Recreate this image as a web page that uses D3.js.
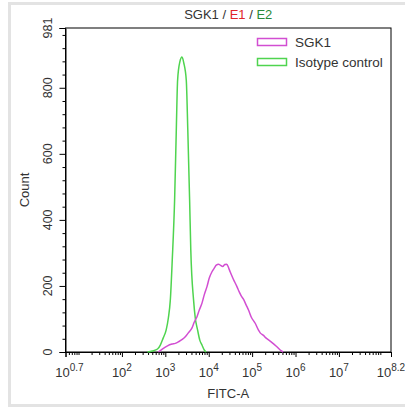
<!DOCTYPE html>
<html>
<head>
<meta charset="utf-8">
<script src="https://cdn.jsdelivr.net/npm/d3@7"></script>
<style>
  body { margin: 0; background: #fff; }
  text { font-family: "Liberation Sans", Arial, sans-serif; }
</style>
</head>
<body>
<div id="chart"></div>
<script>
// histogram values: log10(FITC-A) and event count
const isoLog   = [2.59, 2.70, 2.82, 2.885, 2.95, 3.02, 3.07, 3.115, 3.16, 3.214, 3.253, 3.283, 3.334, 3.384, 3.426, 3.483, 3.518, 3.56, 3.587, 3.651, 3.69, 3.743, 3.794, 3.845, 3.897, 3.944];
const isoCount = [0, 3, 9, 21, 42, 67, 103, 157, 279, 460, 672, 823, 878, 893, 875, 823, 672, 460, 309, 157, 103, 67, 36, 21, 6, 0];

const sgkLog   = [2.84, 2.93, 3.04, 3.155, 3.23, 3.306, 3.39, 3.46, 3.53, 3.615, 3.668, 3.73, 3.783, 3.845, 3.897, 3.96, 4.013, 4.075, 4.128, 4.174, 4.227, 4.266, 4.323, 4.369, 4.415, 4.461, 4.496, 4.565, 4.65, 4.703, 4.749, 4.80, 4.864, 4.917, 4.979, 5.071, 5.147, 5.186, 5.255, 5.324, 5.416, 5.508, 5.577, 5.646, 5.715];
const sgkCount = [0, 9, 18, 24, 26, 31, 38, 46, 58, 73, 91, 107, 127, 148, 173, 198, 224, 243, 254, 263, 266, 263, 259, 265, 266, 254, 242, 221, 198, 182, 170, 160, 142, 127, 106, 87, 66, 58, 51, 42, 33, 23, 15, 6, 0];

const xTickExps = ["0.7", "2", "3", "4", "5", "6", "7", "8.2"];
const yTicks = [0, 200, 400, 600, 800, 981];
const seriesNames = ["SGK1", "Isotype control"];
const seriesColors = ["#d24ed2", "#4fd44f"];

const W = 405, H = 407;
const margin = { top: 28, right: 14, bottom: 55, left: 65.5 };
const width = W - margin.left - margin.right,
  height = H - margin.top - margin.bottom;

const svg = d3.select("#chart").append("svg")
  .attr("width", W).attr("height", H);

// light frame around the picture
svg.append("rect")
  .attr("x", 9.5).attr("y", 3.5)
  .attr("width", 410).attr("height", 402)
  .attr("fill", "none").attr("stroke", "#e3e3e3").attr("stroke-width", 3);

const g = svg.append("g").attr("transform", `translate(${margin.left},${margin.top})`);

const x = d3.scaleLog().domain([Math.pow(10, 0.7), Math.pow(10, 8.2)]).range([0, width]);
const y = d3.scaleLinear().domain([0, 981]).range([height, 0]);

// minor ticks
const xMinor = [];
for (let d = 0; d <= 8; d++) {
  for (let m = 1; m <= 9; m++) {
    const v = m * Math.pow(10, d);
    if (v > x.domain()[0] * 1.01 && v < x.domain()[1] * 0.99 && !(m === 1 && d >= 2)) xMinor.push(v);
  }
}
const yMinor = d3.range(40, 981, 40).filter((v) => v % 200 !== 0);

g.append("g").attr("transform", `translate(0,${height})`)
  .call(d3.axisBottom(x).tickValues(xMinor).tickSize(3).tickFormat(""))
  .call((a) => a.select(".domain").remove());
g.append("g")
  .call(d3.axisLeft(y).tickValues(yMinor).tickSize(3).tickFormat(""))
  .call((a) => a.select(".domain").remove());

g.append("g").attr("transform", `translate(0,${height})`)
  .call(d3.axisBottom(x).tickValues(xTickExps.map((e) => Math.pow(10, +e))).tickSize(5).tickFormat(""));
g.append("g")
  .call(d3.axisLeft(y).tickValues(yTicks).tickSize(6).tickFormat(""));
g.selectAll(".domain").attr("stroke", "#000");
g.selectAll(".tick line").attr("stroke", "#000");

// frame of the plot area
g.append("rect").attr("width", width).attr("height", height)
  .attr("fill", "none").attr("stroke", "#000").attr("stroke-width", 1);

// x tick labels with superscript exponents
xTickExps.forEach((e, i) => {
  const t = g.append("text")
    .attr("x", x(Math.pow(10, +e)) + (i === 0 ? 4 : 0))
    .attr("y", height + 25)
    .attr("text-anchor", "middle")
    .attr("fill", "#333")
    .style("font-size", "13px");
  t.append("tspan").text("10");
  t.append("tspan").attr("dy", -6).style("font-size", "10px").text(e);
});

// y tick labels, rotated
yTicks.forEach((v) => {
  g.append("text")
    .attr("transform", `translate(-13.5,${y(v)}) rotate(-90)`)
    .attr("text-anchor", "middle")
    .attr("fill", "#333")
    .style("font-size", "12.5px")
    .text(v);
});

// axis titles
svg.append("text")
  .attr("x", margin.left + width / 2).attr("y", 398)
  .attr("text-anchor", "middle").attr("fill", "#333")
  .style("font-size", "13px").text("FITC-A");
svg.append("text")
  .attr("transform", `translate(29,${margin.top + height / 2}) rotate(-90)`)
  .attr("text-anchor", "middle").attr("fill", "#333")
  .style("font-size", "13px").text("Count");

// title
const title = svg.append("text")
  .attr("x", margin.left + width / 2).attr("y", 19)
  .attr("text-anchor", "middle").attr("fill", "#333")
  .style("font-size", "13px");
title.append("tspan").text("SGK1 / ");
title.append("tspan").attr("fill", "#e0262a").text("E1");
title.append("tspan").text(" / ");
title.append("tspan").attr("fill", "#2a8a3a").text("E2");

// curves
const line = d3.line()
  .x((d) => x(Math.pow(10, d[0])))
  .y((d) => y(d[1]))
  .curve(d3.curveMonotoneX);

g.append("path")
  .datum(isoLog.map((v, i) => [v, isoCount[i]]))
  .attr("fill", "none").attr("stroke", seriesColors[1]).attr("stroke-width", 1.5)
  .attr("d", line);
g.append("path")
  .datum(sgkLog.map((v, i) => [v, sgkCount[i]]))
  .attr("fill", "none").attr("stroke", seriesColors[0]).attr("stroke-width", 1.5)
  .attr("d", line);

// legend
const legend = svg.append("g");
seriesNames.forEach((name, i) => {
  legend.append("rect")
    .attr("x", 257.5).attr("y", 38.5 + i * 20)
    .attr("width", 29).attr("height", 7)
    .attr("fill", "none").attr("stroke", seriesColors[i]).attr("stroke-width", 1.5);
  legend.append("text")
    .attr("x", 295).attr("y", 47 + i * 20)
    .attr("fill", "#333").style("font-size", "13.5px")
    .text(name);
});
</script>
</body>
</html>
